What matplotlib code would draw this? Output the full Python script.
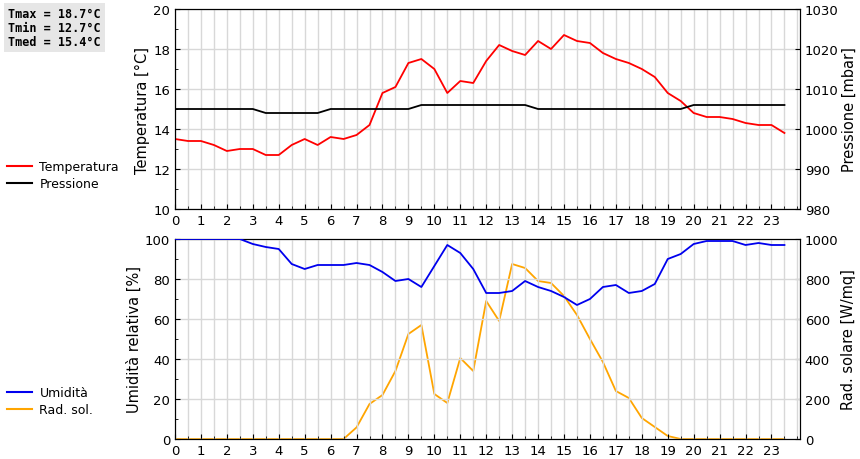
import numpy as np
import matplotlib
matplotlib.use("Agg")
import matplotlib.pyplot as plt
from matplotlib.lines import Line2D

# ==========================
# DATA (half-hour samples)
# ==========================

hours = [h * 0.5 for h in range(48)]

temperatura = [13.5, 13.4, 13.4, 13.2, 12.9, 13.0, 13.0, 12.7, 12.7, 13.2,
               13.5, 13.2, 13.6, 13.5, 13.7, 14.2, 15.8, 16.1, 17.3, 17.5,
               17.0, 15.8, 16.4, 16.3, 17.4, 18.2, 17.9, 17.7, 18.4, 18.0,
               18.7, 18.4, 18.3, 17.8, 17.5, 17.3, 17.0, 16.6, 15.8, 15.4,
               14.8, 14.6, 14.6, 14.5, 14.3, 14.2, 14.2, 13.8]

pressione = [1005] * 7 + [1004] * 5 + [1005] * 7 + [1006] * 9 + [1005] * 12 + [1006] * 8

umidita = [100, 100, 100, 100, 100, 100, 97.5, 96, 95, 87.5,
           85, 87, 87, 87, 88, 87, 83.5, 79, 80, 76,
           86.5, 97, 93, 85, 73, 73, 74, 79, 76, 74,
           71, 67, 70, 76, 77, 73, 74, 77.5, 90, 92.5,
           97.5, 99, 99, 99, 97, 98, 97, 97]

rad_sol = [0, 0, 0, 0, 0, 0, 0, 0, 0, 0,
           0, 0, 0, 0, 58, 175, 220, 340, 525, 570,
           225, 180, 405, 340, 690, 590, 875, 855, 790, 780,
           715, 620, 500, 385, 240, 205, 105, 60, 15, 0,
           0, 0, 0, 0, 0, 0, 0, 0]

stats = "Tmax = 18.7°C\nTmin = 12.7°C\nTmed = 15.4°C"

# ==========================
# FIGURE
# ==========================

fig = plt.figure(figsize=(8.6, 4.6), dpi=100)
W, H = 860, 460
ax1 = fig.add_axes([175 / W, 250 / H, 625 / W, 200 / H])
ax3 = fig.add_axes([175 / W, 20 / H, 625 / W, 200 / H])

grid_c = "#d8d8d8"


def style_x(ax):
    ax.set_xlim(0, 24.1)
    ax.set_xticks(range(24))
    ax.set_xticks(np.arange(0, 24.1, 0.5), minor=True)
    ax.grid(True, which="both", axis="x", color=grid_c, lw=1)
    ax.grid(True, which="major", axis="y", color=grid_c, lw=1)
    ax.set_axisbelow(True)
    ax.tick_params(which="both", direction="in", labelsize=9.5)


# top panel
ax1.plot(hours, temperatura, color="#ff0000", lw=1.3, zorder=3)
ax1.set_ylim(10, 20)
ax1.set_yticks(range(10, 21, 2))
ax1.set_yticks(range(10, 21, 1), minor=True)
style_x(ax1)
ax1.set_ylabel("Temperatura [°C]", fontsize=10.5, labelpad=2)
ax2 = ax1.twinx()
ax2.plot(hours, pressione, color="black", lw=1.3, zorder=3)
ax2.set_ylim(980, 1030)
ax2.set_yticks(range(980, 1031, 10))
ax2.tick_params(direction="in", labelsize=9.5)
ax2.set_ylabel("Pressione [mbar]", fontsize=10.5, labelpad=2)

# bottom panel
ax3.plot(hours, umidita, color="#0000ee", lw=1.3, zorder=3)
ax3.set_ylim(0, 100)
ax3.set_yticks(range(0, 101, 20))
ax3.set_yticks(range(0, 101, 10), minor=True)
style_x(ax3)
ax3.set_ylabel("Umidità relativa [%]", fontsize=10.5, labelpad=2)
ax4 = ax3.twinx()
ax4.plot(hours, rad_sol, color="#ffa500", lw=1.3, zorder=3)
ax4.set_ylim(0, 1000)
ax4.set_yticks(range(0, 1001, 200))
ax4.tick_params(direction="in", labelsize=9.5)
ax4.set_ylabel("Rad. solare [W/mq]", fontsize=10.5, labelpad=2)
ax3.set_zorder(ax4.get_zorder() + 1)
ax3.patch.set_visible(False)

# legends on the left
fig.legend(handles=[Line2D([], [], color="#ff0000", lw=1.5, label="Temperatura"),
                    Line2D([], [], color="black", lw=1.5, label="Pressione")],
           loc="upper left", bbox_to_anchor=(-0.005, 1 - 150 / H),
           frameon=False, fontsize=9, handlelength=2.0, handletextpad=0.6,
           labelspacing=0.3)
fig.legend(handles=[Line2D([], [], color="#0000ee", lw=1.5, label="Umidità"),
                    Line2D([], [], color="#ffa500", lw=1.5, label="Rad. sol.")],
           loc="upper left", bbox_to_anchor=(-0.005, 1 - 376 / H),
           frameon=False, fontsize=9, handlelength=2.0, handletextpad=0.6,
           labelspacing=0.3)

fig.text(8 / W, 1 - 8 / H, stats, ha="left", va="top", family="DejaVu Sans Mono",
         fontweight="bold", fontsize=8.5, linespacing=1.1,
         bbox=dict(facecolor="#e6e6e6", edgecolor="none", pad=3))

fig.savefig("out.png", dpi=100)
